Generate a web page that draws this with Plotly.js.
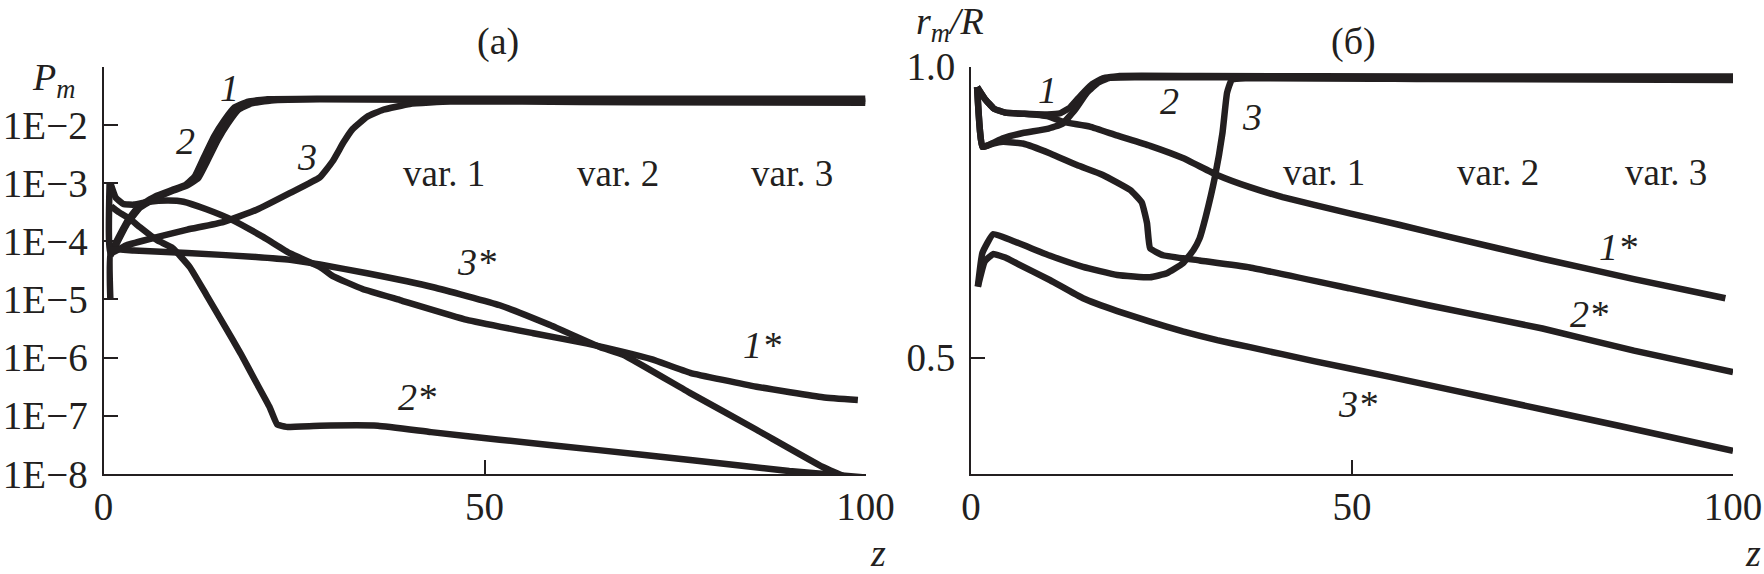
<!DOCTYPE html>
<html>
<head>
<meta charset="utf-8">
<script src="https://cdn.plot.ly/plotly-3.0.1.min.js"></script>
<style>html,body{margin:0;padding:0;background:#fff;}#chart{width:1764px;height:574px;}</style>
</head>
<body>
<div id="chart"></div>
<script>
// ---------- Panel (a): P_m vs z (values stored as log10 P_m) ----------
const a_z1  = [0.9, 1.5, 3.0, 4.6, 6.8, 9.0, 10.8, 12.0, 13.2, 14.5, 15.8, 17.2, 19.0, 21.5, 28, 40, 60, 80, 100];
const a_lg1 = [-4.2, -4.05, -3.68, -3.40, -3.23, -3.12, -3.03, -2.88, -2.55, -2.2, -1.93, -1.70, -1.60, -1.56, -1.55, -1.55, -1.55, -1.55, -1.55];
const a_z2  = [0.9, 1.5, 3.1, 4.8, 7.0, 9.1, 11.0, 12.4, 13.7, 15.0, 16.3, 17.7, 19.4, 22, 28.4, 40, 60, 80, 100];
const a_lg2 = [-4.25, -4.1, -3.7, -3.42, -3.25, -3.13, -3.04, -2.92, -2.6, -2.26, -1.98, -1.74, -1.63, -1.58, -1.56, -1.57, -1.58, -1.59, -1.59];
const a_z3  = [0.8, 0.9, 3, 7, 11, 15.7, 20.1, 24.5, 28.4, 30.1, 31.5, 32.7, 34.6, 36.7, 40.2, 45.5, 55, 70, 100];
const a_lg3 = [-3.0, -4.2, -4.07, -3.93, -3.8, -3.67, -3.46, -3.17, -2.9, -2.62, -2.3, -2.07, -1.86, -1.74, -1.64, -1.6, -1.6, -1.61, -1.62];
const a_z1s  = [0.9, 1.6, 2.6, 4, 6, 8.5, 10.5, 13.5, 17, 21, 24.5, 28.4, 30.1, 34, 38.9, 47.7, 56.4, 63.5, 68.2, 72, 77, 85.7, 94.4, 99];
const a_lg1s = [-3.0, -3.25, -3.36, -3.37, -3.32, -3.3, -3.32, -3.45, -3.64, -3.93, -4.21, -4.44, -4.6, -4.82, -5.01, -5.35, -5.58, -5.76, -5.9, -6.03, -6.26, -6.5, -6.68, -6.73];
const a_z2s  = [1.0, 2.0, 3.5, 4.8, 7.0, 9.1, 11.3, 13.5, 15.7, 18.0, 20.1, 21.8, 22.8, 24, 28.4, 36, 43, 52, 65, 77, 90, 100];
const a_lg2s = [-3.4, -3.5, -3.62, -3.76, -3.98, -4.12, -4.44, -4.92, -5.41, -5.93, -6.44, -6.85, -7.15, -7.19, -7.17, -7.17, -7.28, -7.41, -7.59, -7.76, -7.95, -8.06];
const a_z3s  = [0.9, 1.0, 4, 11, 20, 24.5, 28.4, 34.6, 43.3, 52, 58.6, 65.2, 68.2, 77, 85.7, 94.4, 100];
const a_lg3s = [-5.0, -4.15, -4.16, -4.2, -4.27, -4.32, -4.4, -4.55, -4.79, -5.1, -5.44, -5.82, -5.95, -6.61, -7.24, -7.88, -8.2];

// ---------- Panel (б): r_m/R vs z ----------
const b_z1 = [0.8, 1.8, 3.0, 4.5, 7, 10, 11.7, 13, 14.5, 15.8, 17.3, 19.5, 30, 60, 100];
const b_v1 = [0.965, 0.945, 0.928, 0.921, 0.919, 0.918, 0.92, 0.93, 0.952, 0.969, 0.98, 0.984, 0.984, 0.983, 0.983];
const b_z2 = [0.8, 1.5, 2.9, 4.2, 6.8, 10, 12, 13.6, 15.2, 16.7, 18.2, 22, 40, 70, 100];
const b_v2 = [0.965, 0.862, 0.869, 0.877, 0.886, 0.893, 0.902, 0.925, 0.955, 0.973, 0.981, 0.982, 0.982, 0.981, 0.980];
const b_z3 = [0.9, 1.5, 2.9, 6, 10.4, 14.7, 19.2, 23.5, 25.7, 27.8, 29.2, 30.0, 30.8, 32, 33, 33.6, 34.2, 36, 60, 100];
const b_v3 = [0.622, 0.68, 0.712, 0.698, 0.675, 0.656, 0.642, 0.638, 0.645, 0.662, 0.685, 0.705, 0.742, 0.81, 0.886, 0.955, 0.977, 0.980, 0.979, 0.977];
const b_z1s = [0.8, 1.8, 3, 4.5, 7, 10, 12.1, 15.6, 19.1, 23.5, 27.8, 32.3, 36.6, 40.9, 49.7, 56.3, 62.9, 75, 87, 99];
const b_v1s = [0.965, 0.945, 0.928, 0.921, 0.919, 0.915, 0.905, 0.897, 0.882, 0.864, 0.843, 0.814, 0.793, 0.776, 0.748, 0.728, 0.707, 0.67, 0.635, 0.602];
const b_z2s = [0.8, 1.5, 2.9, 4.2, 6.8, 10.4, 13.9, 17.3, 20.9, 22.4, 23.1, 23.5, 25.2, 30, 36.6, 49.7, 60, 75, 87, 100];
const b_v2s = [0.965, 0.862, 0.868, 0.871, 0.868, 0.851, 0.831, 0.814, 0.788, 0.767, 0.731, 0.688, 0.676, 0.667, 0.655, 0.619, 0.59, 0.55, 0.512, 0.475];
const b_z3s = [0.9, 1.8, 2.9, 4.5, 6, 10.4, 14.7, 19.2, 23.5, 27.8, 32.3, 36.6, 45, 55, 70, 85, 100];
const b_v3s = [0.622, 0.665, 0.678, 0.672, 0.662, 0.633, 0.602, 0.58, 0.562, 0.545, 0.53, 0.518, 0.494, 0.467, 0.425, 0.383, 0.34];

// ---------- Tick labels and text ----------
const a_tickVals = [-8, -7, -6, -5, -4, -3, -2, -1];
const a_tickText = ['1E\u22128', '1E\u22127', '1E\u22126', '1E\u22125', '1E\u22124', '1E\u22123', '1E\u22122', ''];
const b_tickVals = [0.5, 1.0];
const b_tickText = ['0.5', '1.0'];
const z_tickVals = [0, 50, 100];
const z_tickText = ['0', '50', '100'];
const varNames = ['var. 1', 'var. 2', 'var. 3'];
const a_varZ = [44.7, 67.5, 90.4];
const b_varZ = [46.3, 69.2, 91.2];
const a_lab = {t: ['1', '2', '3', '3*', '2*', '1*'], z: [16.6, 10.8, 26.7, 49.0, 41.1, 86.4], lg: [-1.37, -2.28, -2.55, -4.36, -6.68, -5.78]};
const b_lab = {t: ['1', '2', '3', '1*', '2*', '3*'], z: [10.0, 26.0, 36.9, 84.9, 81.1, 50.7], v: [0.96, 0.941, 0.913, 0.69, 0.575, 0.42]};

const INK = '#231f20';
const FONT = '"Liberation Serif", "Times New Roman", serif';
const pw = v => Math.pow(10, v);

function tr(x, y, xa, ya, w) {
  return {x: x, y: y, xaxis: xa, yaxis: ya, type: 'scatter', mode: 'lines',
          line: {color: INK, width: w || 6.5, shape: 'spline', smoothing: 0.35},
          hoverinfo: 'skip'};
}

const data = [
  tr(a_z1, a_lg1.map(pw), 'x', 'y'),
  tr(a_z2, a_lg2.map(pw), 'x', 'y'),
  tr(a_z3, a_lg3.map(pw), 'x', 'y'),
  tr(a_z1s, a_lg1s.map(pw), 'x', 'y'),
  tr(a_z2s, a_lg2s.map(pw), 'x', 'y'),
  tr(a_z3s, a_lg3s.map(pw), 'x', 'y'),
  tr(b_z1, b_v1, 'x2', 'y2'),
  tr(b_z2, b_v2, 'x2', 'y2'),
  tr(b_z3, b_v3, 'x2', 'y2'),
  tr(b_z1s, b_v1s, 'x2', 'y2'),
  tr(b_z2s, b_v2s, 'x2', 'y2'),
  tr(b_z3s, b_v3s, 'x2', 'y2')
];

const W = 1764, H = 574;
const axCommon = {
  showline: true, linecolor: INK, linewidth: 2, mirror: false,
  ticks: 'inside', ticklen: 14, tickwidth: 2, tickcolor: INK,
  showgrid: false, zeroline: false, automargin: false, fixedrange: true,
  tickfont: {family: FONT, size: 39, color: INK}
};
const yDom = [100 / H, 507.3 / H];

const annotations = [];
a_lab.t.forEach((t, i) => annotations.push({xref: 'x', yref: 'y', x: a_lab.z[i], y: a_lab.lg[i], text: '<i>' + t + '</i>', showarrow: false, font: {family: FONT, size: 38, color: INK}}));
b_lab.t.forEach((t, i) => annotations.push({xref: 'x2', yref: 'y2', x: b_lab.z[i], y: b_lab.v[i], text: '<i>' + t + '</i>', showarrow: false, font: {family: FONT, size: 38, color: INK}}));
varNames.forEach((t, i) => {
  annotations.push({xref: 'x', yref: 'y', x: a_varZ[i], y: -2.84, text: t, showarrow: false, font: {family: FONT, size: 37, color: INK}});
  annotations.push({xref: 'x2', yref: 'y2', x: b_varZ[i], y: 0.819, text: t, showarrow: false, font: {family: FONT, size: 37, color: INK}});
});
const paperText = [
  {x: 498, y: 42, t: '(a)'},
  {x: 1353, y: 42, t: '(\u0431)'},
  {x: 53, y: 80, t: '<i>P</i><sub><i>m</i></sub>'},
  {x: 950, y: 24, t: '<i>r</i><sub><i>m</i></sub><i>/R</i>'},
  {x: 878, y: 553, t: '<i>z</i>'},
  {x: 1753, y: 553, t: '<i>z</i>'}
];
paperText.forEach(p => annotations.push({xref: 'paper', yref: 'paper', x: p.x / W, y: 1 - p.y / H, xanchor: 'center', yanchor: 'middle', text: p.t, showarrow: false, font: {family: FONT, size: 38, color: INK}}));

const layout = {
  width: W, height: H,
  margin: {l: 0, r: 0, t: 0, b: 0, pad: 0},
  paper_bgcolor: '#ffffff', plot_bgcolor: '#ffffff',
  showlegend: false,
  font: {family: FONT, color: INK},
  xaxis: Object.assign({}, axCommon, {domain: [103.5 / W, 865.5 / W], range: [0, 100], anchor: 'y', tickmode: 'array', tickvals: z_tickVals, ticktext: z_tickText, ticklabelstandoff: -3}),
  yaxis: Object.assign({}, axCommon, {domain: yDom, type: 'log', range: [-8, -1], anchor: 'x', tickmode: 'array', tickvals: a_tickVals.map(pw), ticktext: a_tickText, ticklabelstandoff: 6}),
  xaxis2: Object.assign({}, axCommon, {domain: [971 / W, 1733 / W], range: [0, 100], anchor: 'y2', tickmode: 'array', tickvals: z_tickVals, ticktext: z_tickText, ticklabelstandoff: -3}),
  yaxis2: Object.assign({}, axCommon, {domain: yDom, range: [0.3, 1.0], anchor: 'x2', tickmode: 'array', tickvals: b_tickVals, ticktext: b_tickText, ticklabelstandoff: 6}),
  annotations: annotations
};

Plotly.newPlot('chart', data, layout, {staticPlot: true, displayModeBar: false});
</script>
</body>
</html>
